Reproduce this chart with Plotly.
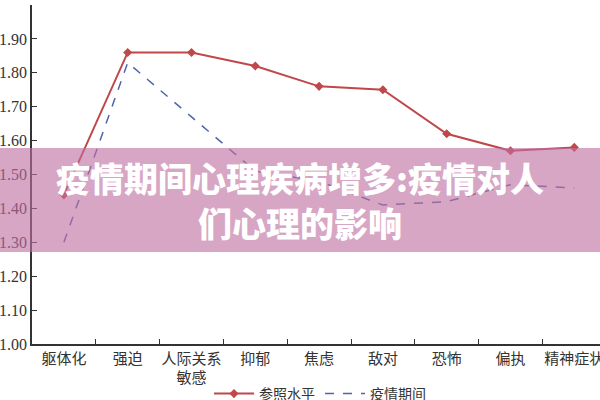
import plotly.graph_objects as go

categories = ["躯体化", "强迫", "人际关系<br>敏感", "抑郁", "焦虑", "敌对", "恐怖", "偏执", "精神症状"]
reference_level = [1.44, 1.86, 1.86, 1.82, 1.76, 1.75, 1.62, 1.57, 1.58]
pandemic_period = [1.30, 1.83, 1.67, 1.51, 1.48, 1.41, 1.42, 1.47, 1.46]
series_names = ["参照水平", "疫情期间"]
title_lines = ["疫情期间心理疾病增多:疫情对人", "们心理的影响"]

W, H = 600, 400
ML, MR, MT, MB = 32, 0, 5, 56
plot_w = W - ML - MR
plot_h = H - MT - MB
cat_px = 63.8

fig = go.Figure()
fig.add_trace(go.Scatter(
    x=categories, y=reference_level, name=series_names[0],
    mode="lines+markers",
    line=dict(color="#c0474a", width=2),
    marker=dict(symbol="diamond", size=7, color="#c0474a"),
))
fig.add_trace(go.Scatter(
    x=categories, y=pandemic_period, name=series_names[1],
    mode="lines",
    line=dict(color="#4f65a8", width=1.5, dash="dash"),
))

def pxx(px):
    return (px - ML) / plot_w

def pxy(py):
    return (H - MB - py) / plot_h

# pink banner overlay with title text
fig.add_annotation(
    xref="paper", yref="paper", x=pxx(300), y=pxy(200),
    text="<br>".join(title_lines), showarrow=False,
    font=dict(family="Noto Sans CJK SC", size=34, color="white", weight=900),
    align="center", valign="middle", xanchor="center", yanchor="middle",
    bgcolor="rgba(190,112,160,0.62)", borderpad=0, borderwidth=0,
    width=604, height=104,
)

serif = "Liberation Serif, Noto Sans CJK SC, serif"
fig.update_layout(
    width=W, height=H,
    margin=dict(l=ML, r=MR, t=MT, b=MB, autoexpand=False),
    paper_bgcolor="white", plot_bgcolor="white",
    showlegend=True,
    legend=dict(orientation="h", x=pxx(320), xanchor="center",
                y=pxy(394), yanchor="middle",
                font=dict(family=serif, size=14, color="#333"),
                bgcolor="rgba(0,0,0,0)", itemwidth=40),
    font=dict(family=serif, size=14, color="#333"),
)
fig.update_xaxes(
    range=[-0.5, -0.5 + plot_w / cat_px],
    showline=True, linecolor="#333", linewidth=1.5,
    ticks="inside", tickson="boundaries", ticklen=5, tickcolor="#333",
    showgrid=False, zeroline=False, automargin=False, tickangle=0,
    tickfont=dict(family=serif, size=15, color="#333"),
)
fig.update_yaxes(
    range=[1.0, 2.0], dtick=0.1, tickformat=".2f",
    showline=True, linecolor="#333", linewidth=1.5,
    ticks="inside", ticklen=5, tickcolor="#333",
    showgrid=False, zeroline=False, automargin=False,
    tickfont=dict(family=serif, size=16, color="#333"),
)

fig.write_html(
    "out.html",
    config={"displayModeBar": False},
    post_script="document.body.style.margin='0';document.body.style.overflow='hidden';"
                "document.documentElement.style.overflow='hidden';",
)
